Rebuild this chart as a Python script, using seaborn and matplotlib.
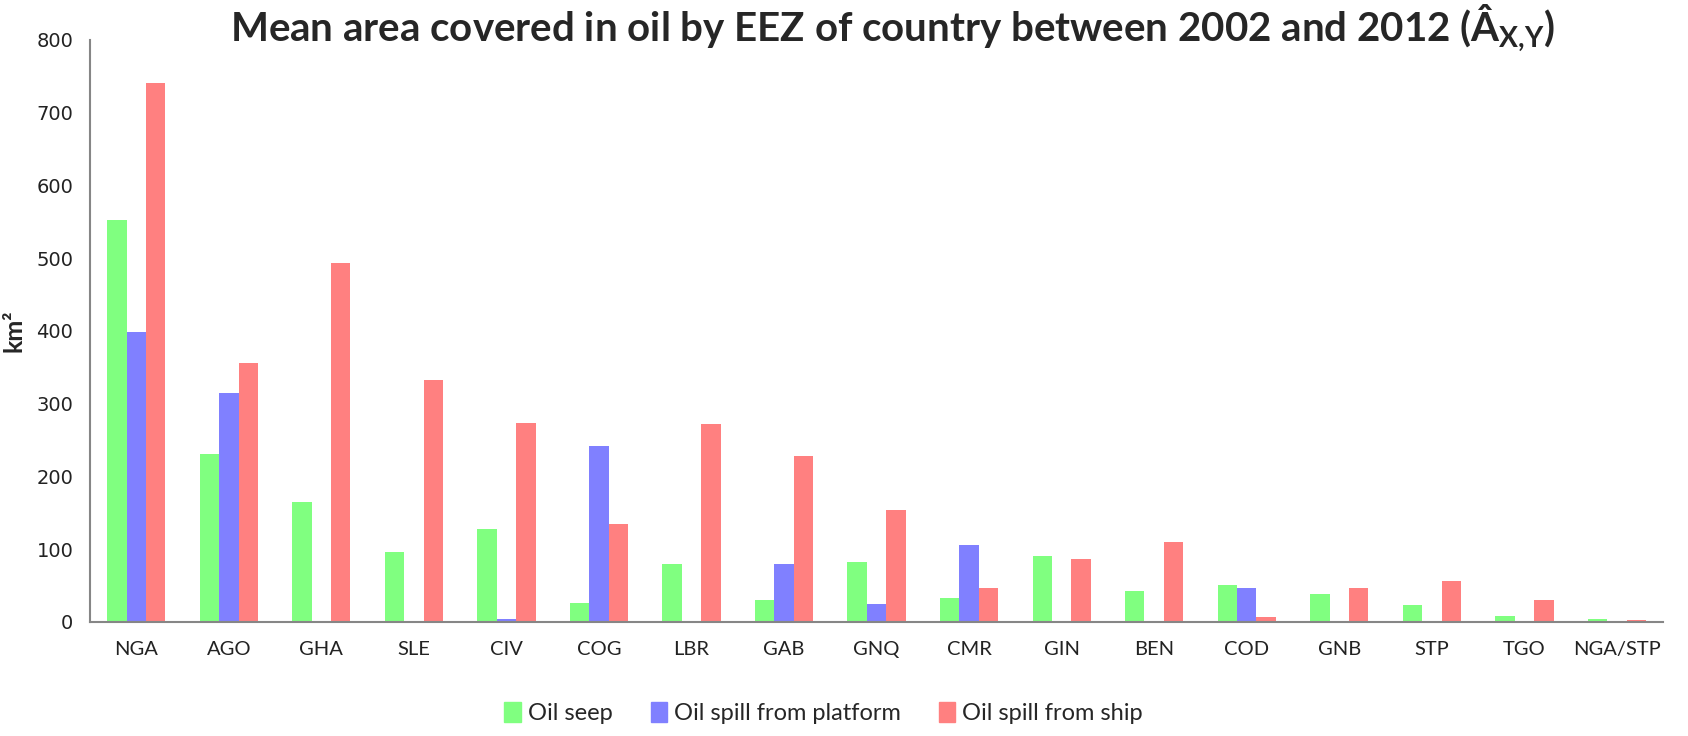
import pandas as pd
import matplotlib
matplotlib.use('Agg')
import matplotlib.pyplot as plt
import seaborn as sns

# Hodnoty (km2)
countries = ['NGA', 'AGO', 'GHA', 'SLE', 'CIV', 'COG', 'LBR', 'GAB', 'GNQ',
             'CMR', 'GIN', 'BEN', 'COD', 'GNB', 'STP', 'TGO', 'NGA/STP']
oil_seep = [553, 231, 165, 96, 128, 26, 79, 30, 83, 33, 90, 43, 51, 39, 23, 8, 4]
spill_platform = [398, 315, 0, 0, 4, 242, 0, 79, 24, 106, 0, 0, 46, 0, 0, 0, 0]
spill_ship = [741, 356, 493, 333, 274, 135, 272, 228, 154, 46, 87, 110, 7, 47, 56, 30, 3]
series_names = ['Oil seep', 'Oil spill from platform', 'Oil spill from ship']
colors = ['#80FF80', '#8080FF', '#FF8080']

df = pd.DataFrame({'country': countries,
                   series_names[0]: oil_seep,
                   series_names[1]: spill_platform,
                   series_names[2]: spill_ship})
long_df = df.melt(id_vars='country', var_name='type', value_name='area')

sns.set_style('white')
plt.rcParams['font.family'] = ['Lato', 'DejaVu Sans']
plt.rcParams['mathtext.fontset'] = 'custom'
plt.rcParams['mathtext.rm'] = 'Lato'
plt.rcParams['mathtext.bf'] = 'Lato:bold'

fig = plt.figure(figsize=(16.88, 7.36), dpi=100)
ax = fig.add_axes([0.0533, 0.155, 0.932, 0.7907])

sns.barplot(data=long_df, x='country', y='area', hue='type', order=countries,
            hue_order=series_names, palette=colors, width=0.63, linewidth=0,
            saturation=1, ax=ax, legend=False)

ax.set_ylim(0, 800)
ax.set_xlim(-0.5, len(countries) - 0.5)
ax.set_yticks(range(0, 801, 100))
ax.set_yticklabels([str(v) for v in range(0, 801, 100)],
                   family='DejaVu Sans', fontsize=14, color='#222222')
ax.set_xticks(range(len(countries)))
ax.set_xticklabels(countries, fontsize=14.5, color='#222222')
ax.set_xticks([i + 0.5 for i in range(-1, len(countries))], minor=True)
ax.tick_params(axis='x', which='major', length=0, pad=14)
ax.tick_params(axis='x', which='minor', length=6, width=1.2, color='#868686', direction='out')
ax.tick_params(axis='y', length=6, width=1.2, color='#868686', direction='out', pad=6)

for side in ['top', 'right']:
    ax.spines[side].set_visible(False)
for side in ['left', 'bottom']:
    ax.spines[side].set_color('#868686')
    ax.spines[side].set_linewidth(1.5)

ax.set_xlabel('')
ax.set_ylabel('km²', fontsize=18, fontweight='bold', labelpad=8)

fig.text(0.529, 0.997, r'Mean area covered in oil by EEZ of country between 2002 and 2012 (Â$_{\mathbf{X{,}Y}}$)',
         ha='center', va='top', fontsize=29, fontweight='bold')

handles = [plt.Rectangle((0, 0), 1, 1, color=c) for c in colors]
fig.legend(handles, series_names, loc='center', bbox_to_anchor=(0.488, 0.031),
           ncol=3, frameon=False, fontsize=17, handlelength=0.7, handleheight=0.9,
           handletextpad=0.3, columnspacing=1.6)

fig.savefig('out.png', dpi=100)
plt.close()
